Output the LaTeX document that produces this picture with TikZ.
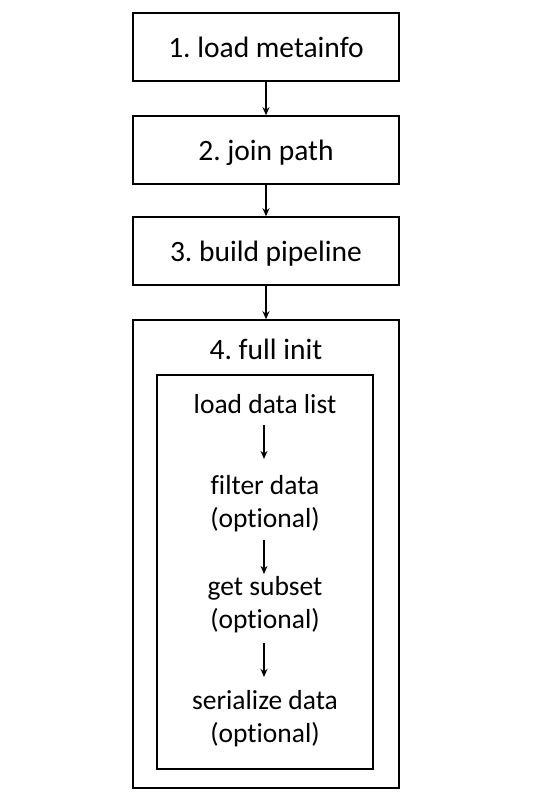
\documentclass[tikz,border=0pt]{standalone}
\usepackage{fontspec}
\setmainfont{Carlito}[Ligatures={NoCommon}]
\frenchspacing
\usetikzlibrary{arrows.meta}
\tikzset{
  box/.style={draw, line width=1.6pt, minimum width=266pt, minimum height=68pt, inner sep=0pt,
    font=\fontsize{29.5}{35}\selectfont, text height=26.5pt, text depth=6.5pt},
  frame/.style={draw, line width=1.6pt, inner sep=0pt},
  title/.style={font=\fontsize{29.5}{35}\selectfont, inner sep=0pt, anchor=base},
  stepnode/.style={font=\fontsize{27.5}{33}\selectfont, inner sep=0pt, anchor=north, align=center},
  conn/.style={line width=1.1pt, -{Stealth[length=8pt,width=7pt]}},
}
\begin{document}
\begin{tikzpicture}[x=1pt,y=-1pt]
\useasboundingbox (0,0) rectangle (538,793);
\node[box] (b1) at (266,47) {1. load metainfo};
\node[box] (b2) at (266,150) {2. join path};
\node[box] (b3) at (266,251) {3. build pipeline};
\node[frame, minimum width=266pt, minimum height=468pt] (b4) at (266,554) {};
\node[title] (t4) at (266,359) {4. full init};
\node[frame, minimum width=216pt, minimum height=394pt] (inner) at (265,572) {};
\node[stepnode] (s1) at (265,389.9) {\strut load data list};
\node[stepnode] (s2) at (265,470.9) {\strut filter data\\\strut (optional)};
\node[stepnode] (s3) at (265,571.9) {\strut get subset\\\strut (optional)};
\node[stepnode] (s4) at (265,685.9) {\strut serialize data\\\strut (optional)};
\draw[conn] (b1) -- (b2);
\draw[conn] (b2) -- (b3);
\draw[conn] (b3) -- (b4);
\draw[conn, shorten <=2pt, shorten >=12pt] ([xshift=-1pt]s1.south) -- ([xshift=-1pt]s2.north);
\draw[conn, shorten <=3pt, shorten >=-2pt] ([xshift=-1pt]s2.south) -- ([xshift=-1pt]s3.north);
\draw[conn, shorten <=5pt, shorten >=9pt] ([xshift=-1pt]s3.south) -- ([xshift=-1pt]s4.north);
\end{tikzpicture}
\end{document}
